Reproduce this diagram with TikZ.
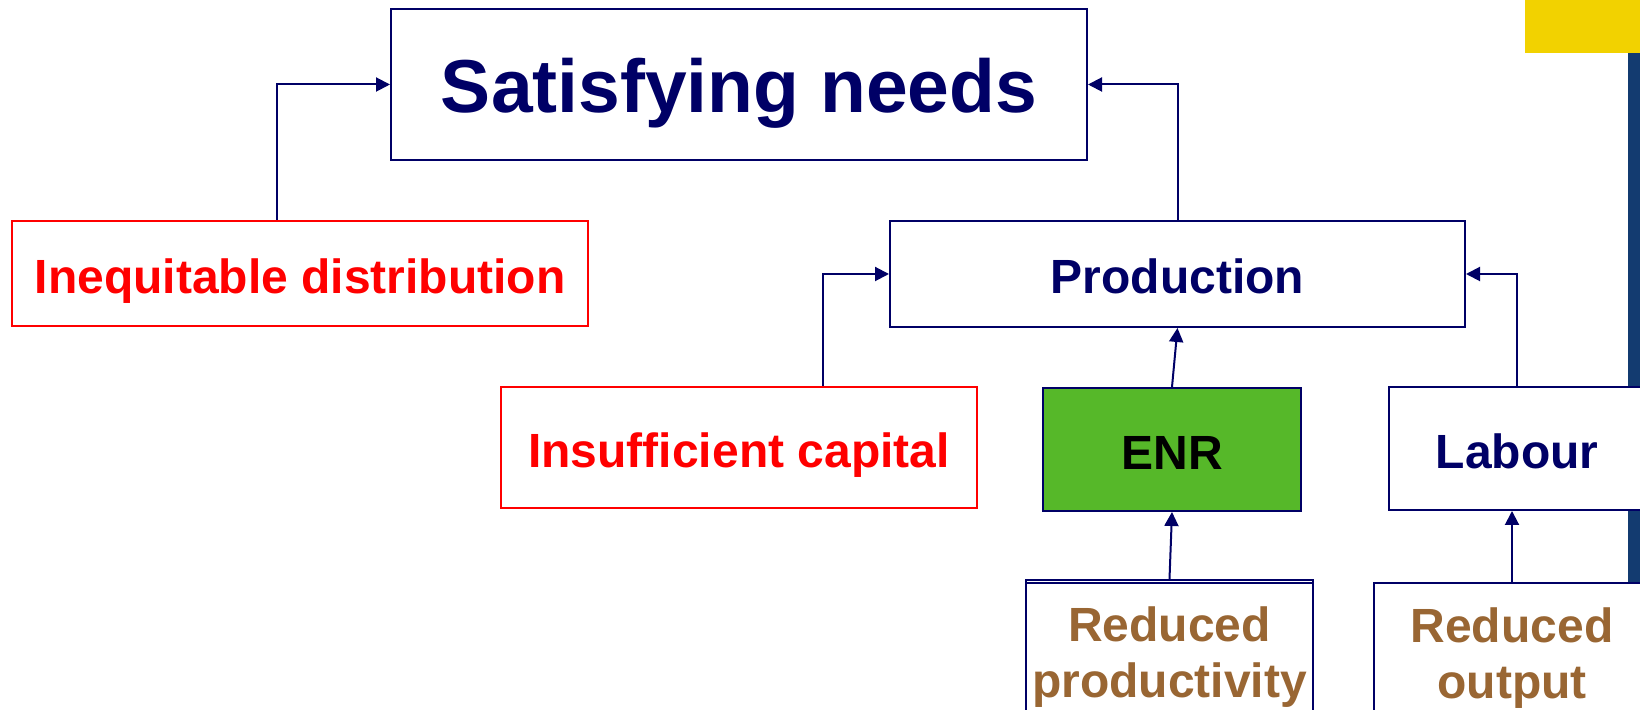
\documentclass[tikz,border=0pt]{standalone}
\usepackage{fontspec}
\setmainfont{Liberation Sans}
\usetikzlibrary{arrows.meta}

\definecolor{navy}{RGB}{0,0,102}
\definecolor{cause}{RGB}{255,0,0}
\definecolor{effect}{RGB}{153,102,51}
\definecolor{enrgreen}{RGB}{86,184,41}
\definecolor{baryellow}{RGB}{242,210,0}
\definecolor{barblue}{RGB}{19,59,112}

\begin{document}
\begin{tikzpicture}[x=0.5pt, y=-0.5pt, line width=1pt,
  box/.style={draw=navy, fill=white, text=navy, inner sep=0pt, align=center,
              font=\bfseries\fontsize{24}{28}\selectfont},
  oneline/.style={text height=20pt, text depth=0pt},
  redbox/.style={box, oneline, draw=cause, text=cause},
  arr/.style={draw=navy, -{Triangle[length=7pt, width=7pt]}}]

\useasboundingbox (0, 0) rectangle (1640, 710);

% draw side bars
\fill[baryellow] (1525, -5) rectangle (1650, 53);
\fill[barblue] (1628, 53) rectangle (1650, 715);

% draw boxes
\node[box, minimum width=348pt, minimum height=75.5pt, text height=28.5pt, text depth=0pt,
      font=\bfseries\fontsize{37.5}{40}\selectfont] (needs) at (739, 84.5) {Satisfying needs};

\node[redbox, minimum width=287.75pt, minimum height=52.5pt] (distrib) at (300, 273.5) {Inequitable distribution};
\node[box, oneline, minimum width=287.5pt, minimum height=53pt] (prod) at (1177.5, 274) {Production};

\node[redbox, minimum width=238pt, minimum height=60.5pt] (capital) at (739, 447.5) {Insufficient capital};
\node[box, oneline, fill=enrgreen, text=black, minimum width=129pt, minimum height=61.5pt] (enr) at (1172, 449.5) {ENR};
\node[box, oneline, minimum width=128pt, minimum height=61.5pt] (labour) at (1517, 448.5) {Labour};

\node[box, text=effect, minimum width=143.5pt, minimum height=77pt] (redprod) at (1169.5, 657) {Reduced\\productivity};
\draw[navy] ([yshift=-2pt]redprod.north west) -- ([yshift=-2pt]redprod.north east);
\node[box, text=effect, minimum width=138pt, minimum height=75.5pt] (redout) at (1512, 658.5) {Reduced\\output};

% draw arrows
\draw[arr] ([xshift=-11.5pt]distrib.north) |- (needs.west);
\draw[arr] (prod.north) |- (needs.east);
\draw[arr] ([xshift=42pt]capital.north) |- (prod.west);
\draw[arr] (labour.north) |- (prod.east);
\draw[arr] (enr.north) -- (prod.south);
\draw[arr] (redprod.north) -- (enr.south);
\draw[arr] (redout.north) -- (redout.north |- labour.south);

\end{tikzpicture}
\end{document}
